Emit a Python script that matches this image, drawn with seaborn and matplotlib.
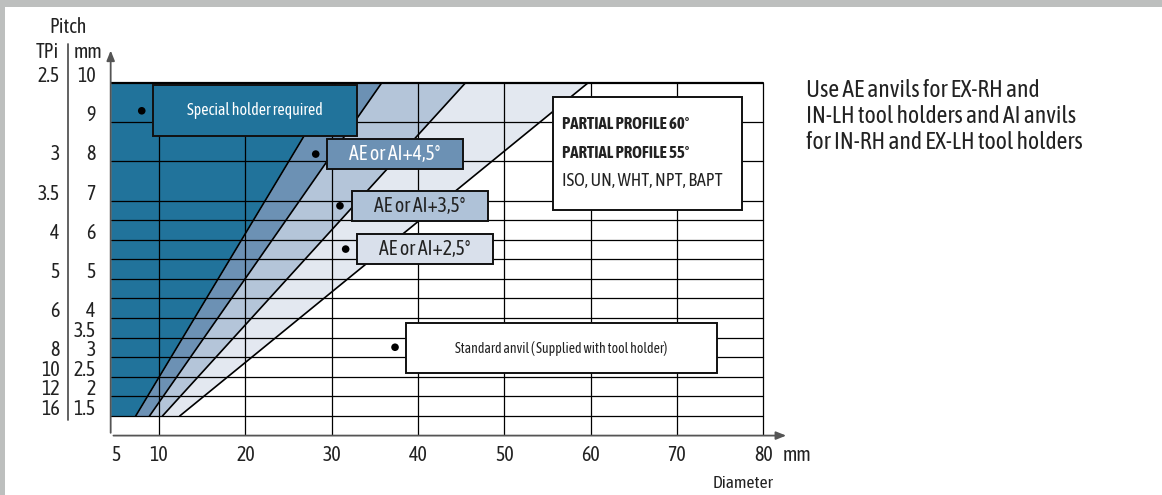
import numpy as np
import pandas as pd
import matplotlib
matplotlib.use("Agg")
import matplotlib.pyplot as plt
from matplotlib import font_manager as fm
from matplotlib.patches import Rectangle
from matplotlib.transforms import offset_copy
import seaborn as sns

# pitch axis: mm values and the TPi value that sits on the same row
pitch_mm = [1.5, 2, 2.5, 3, 3.5, 4, 5, 6, 7, 8, 9, 10]
tpi_mm = [1.5, 2, 2.5, 3, 4, 5, 6, 7, 8, 10]
tpi_labels = ["16", "12", "10", "8", "6", "5", "4", "3.5", "3", "2.5"]
grid_mm = [1.5, 2, 2.5, 3, 3.5, 4, 4.5, 5, 5.5, 6, 6.5, 7, 8, 9, 10]

# diameter axis
diam_ticks = [5, 10, 20, 30, 40, 50, 60, 70, 80]
diam_grid = [10, 20, 30, 40, 50, 60, 70, 80]

# zone boundaries: diameter where each line meets pitch 1.5 mm and pitch 10 mm
bound_names = ["4,5", "3,5", "2,5", "std"]
bound_d_low = [7.3, 8.9, 10.4, 12.4]
bound_d_high = [30.5, 35.8, 45.5, 59.7]
zone_colors = ["#21739b", "#6c91b4", "#b4c5d9", "#e3e8f0"]

sns.set_theme(style="white")

# narrow font, like the condensed face of the original
names = {f.name for f in fm.fontManager.ttflist}
fam = next((p for p in ["Asap Condensed", "Roboto Condensed", "Liberation Sans Narrow", "Liberation Sans"]
            if p in names), "DejaVu Sans")
k = 1.0 if fam == "Asap Condensed" else 0.87
plt.rcParams["font.family"] = [fam, "DejaVu Sans"]
plt.rcParams["text.color"] = "#222222"

W, H = 1162, 495
fig = plt.figure(figsize=(W / 100, H / 100), dpi=100)
fig.patch.set_facecolor("white")

x0, x1 = 4.4, 83.0
y0, y1 = 1.0, 10.9
sx, sy = 8.63, 39.18          # px per unit
lpx = 159 + (x0 - 10) * sx
rpx = 159 + (x1 - 10) * sx
bpx = 416 + (1.5 - y0) * sy
tpx = 416 - (y1 - 1.5) * sy
ax = fig.add_axes([lpx / W, 1 - bpx / H, (rpx - lpx) / W, (bpx - tpx) / H])
ax.set_xlim(x0, x1)
ax.set_ylim(y0, y1)
for s in ax.spines.values():
    s.set_visible(False)
ax.set_facecolor("none")

# zones
edges = [[x0, x0]] + [[lo, hi] for lo, hi in zip(bound_d_low, bound_d_high)]
for i, c in enumerate(zone_colors):
    ax.fill_betweenx([1.5, 10], edges[i], edges[i + 1], color=c, lw=0, zorder=1)

# grid
for d in diam_grid:
    ax.plot([d, d], [y0, 10], color="black", lw=0.9, zorder=2)
for m in grid_mm:
    ax.plot([x0, 80], [m, m], color="black", lw=1.6 if m == 10 else 0.9, zorder=2)

# boundary lines
bounds = pd.DataFrame({
    "name": np.repeat(bound_names, 2),
    "diameter": np.ravel(list(zip(bound_d_low, bound_d_high))),
    "pitch": [1.5, 10] * len(bound_names),
})
sns.lineplot(data=bounds, x="diameter", y="pitch", units="name", estimator=None,
             color="black", lw=1.2, sort=False, ax=ax, zorder=3, legend=False)
ax.set_xlabel("")
ax.set_ylabel("")

# axes with arrows
arr = dict(arrowstyle="-|>,head_length=0.5,head_width=0.2", color="#555555", lw=1.3)
ax.annotate("", xy=(x1, y0), xytext=(x0, y0), arrowprops=arr, annotation_clip=False, zorder=4)
ax.annotate("", xy=(x0, y1), xytext=(x0, y0), arrowprops=arr, annotation_clip=False, zorder=4)

# x ticks
ax.set_xticks(diam_ticks)
ax.set_yticks([])
ax.tick_params(axis="x", length=0, pad=7, labelsize=14.4 * k, labelcolor="#222222")
ax.annotate("mm", xy=(80, y0), xytext=(20, -19), textcoords="offset pixels",
            ha="left", va="center", fontsize=14.4 * k)
ax.annotate("Diameter", xy=(80, y0), xytext=(-20, -48), textcoords="offset pixels",
            ha="center", va="center", fontsize=12.6 * k)

# y labels: two columns
ytr = ax.get_yaxis_transform()
for m in pitch_mm:
    ax.text(0, m, f"{m:g}", transform=offset_copy(ytr, fig=fig, x=-15, y=7, units="dots"),
            ha="right", va="center", fontsize=14.4 * k)
for m, t in zip(tpi_mm, tpi_labels):
    ax.text(0, m, t, transform=offset_copy(ytr, fig=fig, x=-51, y=7, units="dots"),
            ha="right", va="center", fontsize=14.4 * k)
ax.plot([0, 0], [1.4, 11.0], transform=offset_copy(ytr, fig=fig, x=-42.7, units="dots"),
        color="#555555", lw=1.3, clip_on=False)
ax.text(0, 10.79, "TPi", transform=offset_copy(ytr, fig=fig, x=-52, units="dots"),
        ha="right", va="center", fontsize=14.4 * k)
ax.text(0, 10.79, "mm", transform=offset_copy(ytr, fig=fig, x=-37, units="dots"),
        ha="left", va="center", fontsize=14.4 * k)
ax.text(0, 11.43, "Pitch", transform=offset_copy(ytr, fig=fig, x=-43, units="dots"),
        ha="center", va="center", fontsize=14.4 * k)

# labelled boxes with their dots
boxes = [
    # text, x0, x1, y0, y1, face, text colour, dot, font size
    ("Special holder required", 9.27, 32.94, 8.645, 9.95, zone_colors[0], "white", (8.0, 9.29), 11.4),
    ("AE or AI+4,5°", 29.43, 45.19, 7.805, 8.57, zone_colors[1], "white", (28.16, 8.185), 14.2),
    ("AE or AI+3,5°", 32.33, 48.09, 6.485, 7.25, "#afc2d8", "#222222", (30.97, 6.865), 14.2),
    ("AE or AI+2,5°", 32.91, 48.73, 5.38, 6.145, "#d9e0eb", "#222222", (31.63, 5.76), 14.2),
    ("Standard anvil ( Supplied with tool holder)", 38.62, 74.62, 2.605, 3.865, "white", "#222222",
     (37.35, 3.255), 9.9),
]
dots = []
for txt, bx0, bx1, by0, by1, fc, tc, dot, fs in boxes:
    ax.add_patch(Rectangle((bx0, by0), bx1 - bx0, by1 - by0, facecolor=fc, edgecolor="#111111",
                           lw=1.4, zorder=5))
    ax.text((bx0 + bx1) / 2, (by0 + by1) / 2, txt, color=tc, ha="center", va="center",
            fontsize=fs * k, zorder=6)
    dots.append(dot)
dots = pd.DataFrame(dots, columns=["diameter", "pitch"])
sns.scatterplot(data=dots, x="diameter", y="pitch", color="black", s=30, ax=ax, zorder=6,
                edgecolor="none")
ax.set_xlabel("")
ax.set_ylabel("")

# legend box
ax.add_patch(Rectangle((55.69, 6.76), 77.6 - 55.69, 9.635 - 6.76, facecolor="white",
                       edgecolor="#111111", lw=1.4, zorder=5))
ax.text(56.66, 8.953, "PARTIAL PROFILE 60°", fontweight="bold", fontsize=12.1 * k, ha="left",
        va="center", zorder=6)
ax.text(56.66, 8.213, "PARTIAL PROFILE 55°", fontweight="bold", fontsize=12.1 * k, ha="left",
        va="center", zorder=6)
ax.text(56.66, 7.498, "ISO, UN, WHT, NPT, BAPT", fontsize=13.1 * k, ha="left", va="center", zorder=6)

fig.text(806 / W, 1 - 79 / H, "Use AE anvils for EX-RH and\nIN-LH tool holders and AI anvils\n"
         "for IN-RH and EX-LH tool holders", ha="left", va="top", fontsize=17.0 * k, linespacing=1.18)

# grey frame on top and left
fig.add_artist(Rectangle((0, 0), 5 / W, 1, transform=fig.transFigure, color="#bdbfbe", lw=0))
fig.add_artist(Rectangle((0, 1 - 7 / H), 1, 7 / H, transform=fig.transFigure, color="#bdbfbe", lw=0))

fig.savefig("out.png", dpi=100)
